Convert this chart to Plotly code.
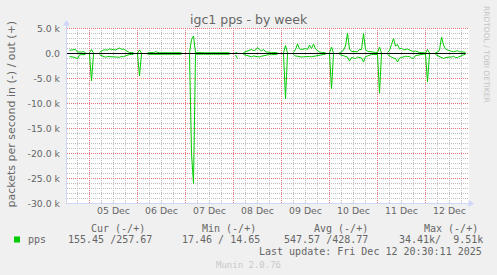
import pandas as pd
import plotly.graph_objects as go

# ---------------- data (hourly samples, packets/s; None = no data) ----------------
START = "2025-12-04 14:00"
N = None
OUT_PPS = [
    # Dec 4 14:00-23:00
    650, 650, 700, 800, 300, 250, 300, 350, 200, N,
    # Dec 5
    150, 800, 100, N, N, 250, 500, 700, 750, 650, 950, 750, 850, 700, 900, 1100, 800, 900, 650, 350, 200, 200, 150, N,
    # Dec 6
    100, 700, 100, N, N, 150, 150, 200, 200, 350, 200, 150, 150, 150, 150, 150, 150, 150, 150, 150, 150, 150, 150, N,
    # Dec 7
    N, N, 100, 2800, 3500, 150, 200, 150, 150, 100, 150, 150, 150, 200, 150, 150, 150, 150, 150, 150, 150, 150, 150, N,
    # Dec 8
    N, 200, 100, N, N, 200, 350, 550, 650, 800, 600, 700, 1200, 750, 550, 800, 350, 250, 200, 200, 200, 150, 150, N,
    # Dec 9
    N, 100, 1600, 100, N, N, 200, 800, 1900, 900, 800, 900, 1000, 800, 1700, 1000, 1900, 900, 600, 300, 200, 200, 150, N,
    # Dec 10
    100, 1300, 100, N, N, 200, 300, 700, 1500, 4100, 900, 400, 350, 400, 350, 800, 800, 4000, 800, 450, 350, 250, 200, 200,
    # Dec 11
    200, 1300, 100, N, N, 200, 600, 1800, 3000, 1500, 1800, 900, 1100, 700, 800, 900, 700, 500, 350, 500, 300, 200, 200, 150,
    # Dec 12 00:00-20:00
    100, 800, 100, N, N, 200, 250, 700, 3300, 1700, 900, 700, 500, 450, 350, 500, 550, 350, 300, 200, 260,
]
IN_PPS = [
    # Dec 4 14:00-23:00
    600, 650, 600, 800, 1100, 250, 250, 300, 200, N,
    # Dec 5
    150, 5500, 100, N, N, 250, 400, 600, 750, 600, 650, 700, 600, 650, 800, 750, 600, 650, 450, 250, 200, 200, 150, N,
    # Dec 6
    100, 4500, 100, N, N, 150, 150, 150, 200, 200, 150, 150, 150, 150, 150, 150, 150, 150, 150, 150, 150, 150, 150, N,
    # Dec 7
    N, N, 100, 20000, 26000, 150, 150, 200, 150, 150, 150, 100, 150, 150, 150, 150, 200, 150, 150, 150, 150, 150, 150, N,
    # Dec 8
    N, 300, 1000, N, N, 200, 300, 350, 450, 650, 500, 550, 600, 700, 550, 450, 300, 250, 200, 250, 200, 150, 150, N,
    # Dec 9
    N, 100, 9000, 100, N, N, 200, 500, 550, 650, 700, 650, 600, 550, 600, 650, 550, 500, 350, 250, 200, 200, 150, N,
    # Dec 10
    100, 7100, 100, N, N, 200, 300, 550, 600, 700, 1500, 800, 900, 1000, 700, 800, 900, 1700, 600, 500, 300, 200, 200, 200,
    # Dec 11
    200, 7900, 100, N, N, 200, 500, 700, 900, 1000, 1700, 900, 800, 600, 550, 600, 600, 900, 1000, 400, 300, 200, 200, 150,
    # Dec 12 00:00-20:00
    100, 5700, 100, N, N, 200, 400, 650, 800, 1000, 800, 800, 800, 700, 550, 800, 800, 600, 350, 250, 155,
]

X_RANGE = ["2025-12-04 12:45", "2025-12-12 21:45"]
Y_RANGE = [-30100, 5100]
Y_TICKS = [5000, 0, -5000, -10000, -15000, -20000, -25000, -30000]
Y_LABELS = ["5.0 k", "0.0", "-5.0 k", "-10.0 k", "-15.0 k", "-20.0 k", "-25.0 k", "-30.0 k"]
Y_MINOR_STEP = 1000
X_GRID_START = "2025-12-04 18:00"
X_MINOR_STEP = "6h"

TITLE = "igc1 pps - by week"
Y_TITLE = "packets per second in (-) / out (+)"
SERIES = "pps"
LEGEND_HEADERS = ["Cur (-/+)", "Min (-/+)", "Avg (-/+)", "Max (-/+)"]
LEGEND_VALUES = ["155.45 /257.67", "17.46 / 14.65", "547.57 /428.77", "34.41k/  9.51k"]
LAST_UPDATE = "Last update: Fri Dec 12 20:30:11 2025"
FOOTER = "Munin 2.0.76"
WATERMARK = "RRDTOOL / TOBI OETIKER"

# ---------------- layout geometry ----------------
W, H = 497, 275
ML, MR, MT, MB = 67, 28, 28, 71
PW, PH = W - ML - MR, H - MT - MB

GREEN = "#00CC00"
FONT_C = "#666666"
AXIS_C = "#CFD6F8"
MINOR_GRID = "#BEBEBE"
MAJOR_GRID = "#E67676"


def px(x):
    return (x - ML) / PW


def py(y):
    return 1 - (y - MT) / PH


times = pd.date_range(START, periods=len(OUT_PPS), freq="h")
in_neg = [None if v is None else -v for v in IN_PPS]

fig = go.Figure()

# ---- grid (rrdtool style dotted lines) ----
shapes = []
DOT = "1px,1px"
ymin_grid = Y_TICKS[-1]
ymax_grid = Y_TICKS[0]
for v in range(ymin_grid + Y_MINOR_STEP, ymax_grid + 1, Y_MINOR_STEP):
    major = v % 5000 == 0
    shapes.append(dict(type="line", xref="x", yref="y", x0=X_RANGE[0], x1=X_RANGE[1], y0=v, y1=v,
                       line=dict(color=MAJOR_GRID if major else MINOR_GRID, width=1, dash=DOT),
                       layer="below"))
for t in pd.date_range(X_GRID_START, X_RANGE[1], freq=X_MINOR_STEP):
    major = t.hour == 0
    shapes.append(dict(type="line", xref="x", yref="y", x0=t, x1=t, y0=Y_RANGE[1], y1=ymin_grid,
                       line=dict(color=MAJOR_GRID if major else MINOR_GRID, width=1, dash=DOT),
                       layer="below"))
# major (red) lines drawn over minor ones
shapes.sort(key=lambda s: s["line"]["color"] == MAJOR_GRID)

fig.add_trace(go.Scatter(x=times, y=in_neg, mode="lines", line=dict(color=GREEN, width=1),
                         connectgaps=False, hoverinfo="skip", showlegend=False))
fig.add_trace(go.Scatter(x=times, y=OUT_PPS, mode="lines", line=dict(color=GREEN, width=1),
                         connectgaps=False, hoverinfo="skip", showlegend=False))

# x axis line at the bottom of the value range
shapes.append(dict(type="line", xref="x", yref="y", x0=X_RANGE[0], x1=X_RANGE[1],
                   y0=ymin_grid, y1=ymin_grid, line=dict(color=AXIS_C, width=1), layer="above"))
# zero line drawn over the data
shapes.append(dict(type="line", xref="x", yref="y", x0=X_RANGE[0], x1=times[-1], y0=0, y1=0,
                   line=dict(color="#000000", width=1), layer="above"))

# axis arrows
a_l, a_b = 66.5, 203.5
shapes.append(dict(type="path", xref="paper", yref="paper",
                   path=f"M {px(a_l - 3.5)},{py(25.5)} L {px(a_l)},{py(20)} L {px(a_l + 3.5)},{py(25.5)} Z",
                   fillcolor=AXIS_C, line=dict(width=0)))
shapes.append(dict(type="path", xref="paper", yref="paper",
                   path=f"M {px(468.5)},{py(a_b - 3.5)} L {px(474)},{py(a_b)} L {px(468.5)},{py(a_b + 3.5)} Z",
                   fillcolor=AXIS_C, line=dict(width=0)))
# y axis line (left)
shapes.append(dict(type="line", xref="paper", yref="paper", x0=px(a_l), x1=px(a_l),
                   y0=py(204), y1=py(25), line=dict(color=AXIS_C, width=1)))

# legend colour box
shapes.append(dict(type="rect", xref="paper", yref="paper",
                   x0=px(14), x1=px(20), y0=py(242.5), y1=py(236.5),
                   fillcolor=GREEN, line=dict(width=0)))

fig.update_xaxes(
    range=X_RANGE, type="date",
    tick0="2025-12-05", dtick=86400000, tickformat="%d %b", ticklabelmode="period",
    showgrid=False, showline=False, zeroline=False, ticks="",
    tickfont=dict(family="DejaVu Sans", size=9.3, color=FONT_C),
)
fig.update_yaxes(
    range=Y_RANGE, tickmode="array", tickvals=Y_TICKS, ticktext=Y_LABELS,
    showgrid=False, showline=False, zeroline=False, ticks="",
    ticklabelstandoff=6,
    tickfont=dict(family="DejaVu Sans", size=9.3, color=FONT_C),
)

MONO = dict(family="DejaVu Sans Mono", size=10, color=FONT_C)
ann = []


def add(text, x, y, xanchor="left", font=None, angle=0):
    ann.append(dict(text=text, x=px(x), y=py(y), xref="paper", yref="paper",
                    xanchor=xanchor, yanchor="middle", showarrow=False,
                    borderpad=0, textangle=angle, font=font or MONO))


add(TITLE, 248.5, 19, "center", dict(family="DejaVu Sans", size=12.5, color=FONT_C))
add(Y_TITLE, 10.5, 114, "center", dict(family="DejaVu Sans", size=11, color=FONT_C), -90)
add(WATERMARK, 487, 55, "center", dict(family="DejaVu Sans", size=7.5, color="#C4C4C4"), 90)

header_x = [90, 201, 312.7, 423]
value_x = [66.7, 181, 283.3, 397.7]
for hx, h in zip(header_x, LEGEND_HEADERS):
    add(h.replace(" ", "\u00a0"), hx, 228)
add(SERIES, 26.7, 239.5)
for vx, v in zip(value_x, LEGEND_VALUES):
    add(v.replace(" ", "\u00a0"), vx, 239.5)
add(LAST_UPDATE.replace(" ", "\u00a0"), 483, 251.5, "right")
add(FOOTER, 248.5, 264.5, "center", dict(family="DejaVu Sans Mono", size=9, color="#C8C8C8"))

fig.update_layout(
    width=W, height=H, autosize=False,
    margin=dict(l=ML, r=MR, t=MT, b=MB, pad=0),
    paper_bgcolor="#F0F0F0", plot_bgcolor="#FFFFFF",
    showlegend=False, annotations=ann, shapes=shapes,
)

fig.write_html("out.html")
